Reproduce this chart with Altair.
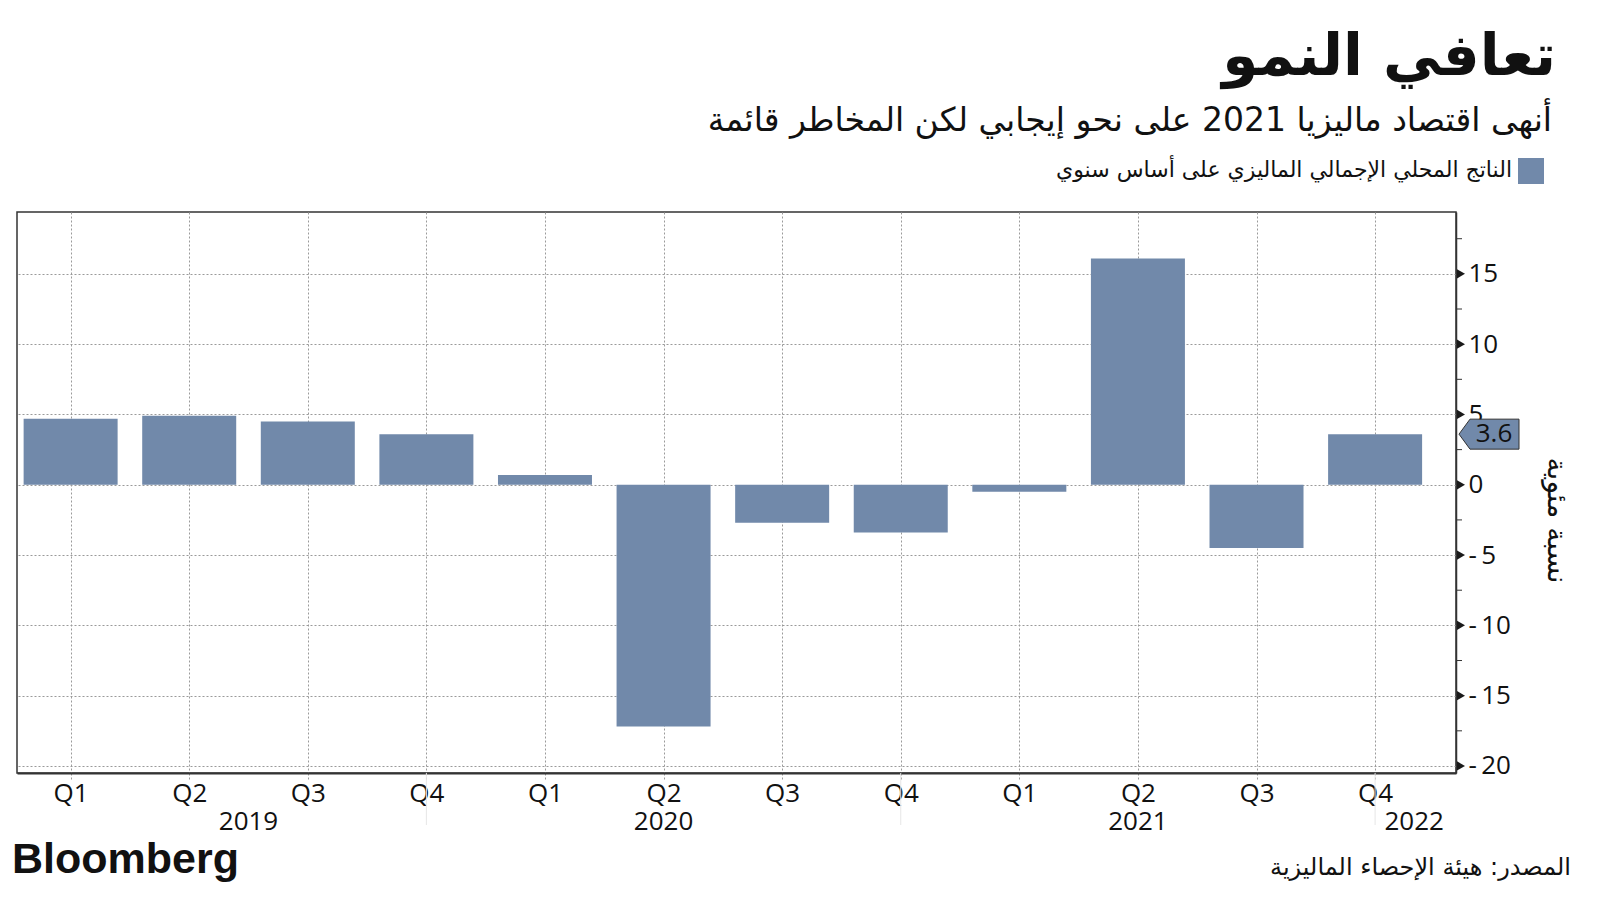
import altair as alt
import pandas as pd

# ---------------- data ----------------
quarter_labels = ["Q1", "Q2", "Q3", "Q4", "Q1", "Q2", "Q3", "Q4", "Q1", "Q2", "Q3", "Q4"]
gdp_yoy = [4.7, 4.9, 4.5, 3.6, 0.7, -17.2, -2.7, -3.4, -0.5, 16.1, -4.5, 3.6]
years = ["2019", "2020", "2021", "2022"]
year_label_pos = [1.5, 5.0, 9.0, 11.33]
year_sep_pos = [3, 7, 11]
y_major = [-20, -15, -10, -5, 0, 5, 10, 15]
y_minor = [-17.5, -12.5, -7.5, -2.5, 2.5, 7.5, 12.5, 17.5]
last_value = [3.6]
last_label = ["3.6"]

title_text = ["تعافي النمو"]
subtitle_text = ["أنهى اقتصاد ماليزيا 2021 على نحو إيجابي لكن المخاطر قائمة"]
legend_text = ["الناتج المحلي الإجمالي الماليزي على أساس سنوي"]
source_text = ["المصدر: هيئة الإحصاء الماليزية"]
brand_text = ["Bloomberg"]
axis_title = "نسبة مئوية"

# ---------------- layout ----------------
W, H = 1439, 561
OX, OY = 17, 212
BAR = "#7189aa"
AR = "DejaVu Sans"
LAT = "Open Sans"

bars_df = pd.DataFrame({"x": list(range(len(gdp_yoy))), "y": gdp_yoy, "q": quarter_labels})
years_df = pd.DataFrame({"year": years, "x": year_label_pos})
seps_df = pd.DataFrame({"x": year_sep_pos})
major_df = pd.DataFrame({"y": y_major})
minor_df = pd.DataFrame({"y": y_minor})
last_df = pd.DataFrame({"y": last_value, "label": last_label})

xs = alt.Scale(domain=[-0.41, 11.64], nice=False, zero=False)
ys = alt.Scale(domain=[-20.5, 19.4], nice=False, zero=False)

q_expr = "[" + ",".join("'%s'" % q for q in quarter_labels) + "][datum.value]"

x_axis = alt.Axis(
    values=list(range(len(gdp_yoy))), labelExpr=q_expr, title=None,
    grid=True, gridDash=[2, 2], gridColor="#9a9a9a", gridWidth=1,
    tickDash=[2, 2], tickColor="#9a9a9a", tickSize=7,
    domainColor="#333333", domainWidth=2,
    labelFont=LAT, labelFontSize=26, labelColor="#111111", labelPadding=0,
)
y_axis = alt.Axis(
    orient="right", values=y_major, ticks=False, title=axis_title,
    labelExpr="datum.value < 0 ? '-\u2009' + abs(datum.value) : datum.label",
    grid=True, gridDash=[2, 2], gridColor="#9a9a9a", gridWidth=1,
    domainColor="#333333", domainWidth=1.5,
    labelFont=LAT, labelFontSize=26, labelColor="#111111", labelPadding=12,
    titleFont=AR, titleFontSize=28, titleFontWeight="normal", titleColor="#111111",
    titleAngle=90, titleX=99, titleY=308, titleAlign="center", titleBaseline="middle",
)


def X(field="x"):
    return alt.X(field + ":Q", scale=xs, axis=x_axis, title=None)


def Y(field="y"):
    return alt.Y(field + ":Q", scale=ys, axis=y_axis, title=axis_title)


bars = alt.Chart(bars_df).mark_bar(size=94, color=BAR).encode(
    x=X(), y=Y(), y2=alt.datum(0),
)

year_labels = alt.Chart(years_df).mark_text(font=LAT, fontSize=26, color="#111111", baseline="middle").encode(
    x=X(), y=alt.value(H + 49), text="year:N")

seps = alt.Chart(seps_df).mark_rule(color="#e6e6e6", strokeWidth=1).encode(
    x=X(), y=alt.value(H), y2=alt.value(H + 52))

tri = alt.Chart(major_df).mark_point(shape="triangle-right", filled=True, color="#1a1a1a", size=85, opacity=1).encode(
    x=alt.value(W + 5), y=Y())

minor = alt.Chart(minor_df).mark_rule(color="#333333", strokeWidth=1).encode(
    y=Y(), x=alt.value(W), x2=alt.value(W + 6))

box = alt.Chart(last_df).mark_point(
    shape="M-1,0L-0.633,-0.5L1,-0.5L1,0.5L-0.633,0.5Z", size=3600, filled=True,
    fill=BAR, stroke="#333333", strokeWidth=1, opacity=1).encode(
    x=alt.value(1489 - OX), y=Y())

box_text = alt.Chart(last_df).mark_text(font=LAT, fontSize=26, color="#111111", align="center", baseline="middle").encode(
    x=alt.value(1494 - OX), y=Y(), text="label:N")


def label(txt, x, y, size, align="right", weight="normal", font=AR, color="#111111"):
    return alt.Chart(pd.DataFrame({"t": txt})).mark_text(
        font=font, fontSize=size, fontWeight=weight, align=align, baseline="alphabetic", color=color
    ).encode(x=alt.value(x - OX), y=alt.value(y - OY), text="t:N")


title = label(title_text, 1556, 75, 58, weight="bold")
subtitle = label(subtitle_text, 1552, 131, 33)
legend_t = label(legend_text, 1512, 177, 22)
legend_sq = alt.Chart(pd.DataFrame({"t": legend_text})).mark_square(size=676, color=BAR, opacity=1).encode(
    x=alt.value(1531 - OX), y=alt.value(171 - OY))
source = label(source_text, 1571, 875, 24)
brand = label(brand_text, 12, 873, 43, align="left", weight="bold", font="Liberation Sans")

chart = alt.layer(
    seps, bars, year_labels, minor, tri, box, box_text,
    title, subtitle, legend_t, legend_sq, source, brand,
).properties(
    width=W, height=H,
    autosize=alt.AutoSizeParams(type="none"),
    padding={"left": OX, "top": OY, "right": 1600 - OX - W, "bottom": 900 - OY - H},
    background="white",
).configure_view(stroke="#333333", strokeWidth=1.5)

chart.save("out.html", embed_options={"renderer": "svg", "actions": False})
